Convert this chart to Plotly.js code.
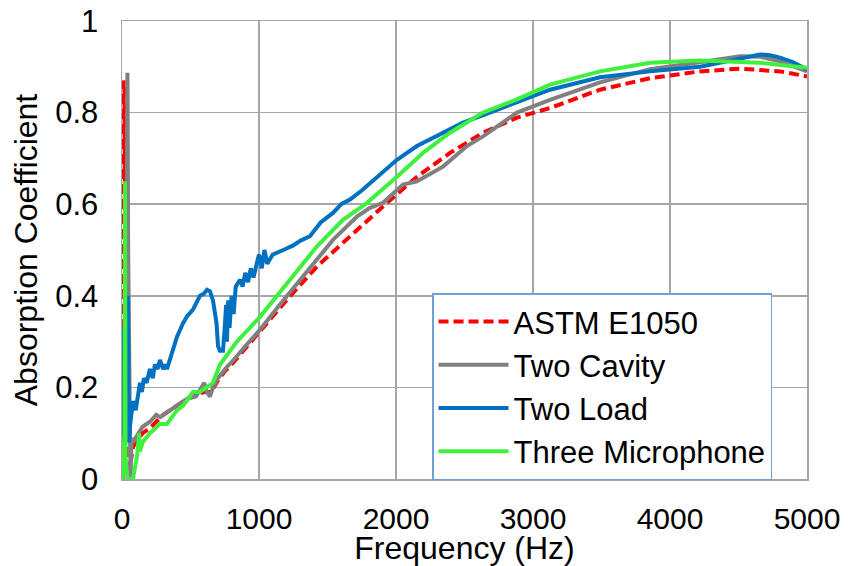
<!DOCTYPE html>
<html>
<head>
<meta charset="utf-8">
<script src="https://cdn.plot.ly/plotly-3.0.1.min.js"></script>
<style>html,body{margin:0;padding:0;background:#fff;}#chart{width:848px;height:566px;}</style>
</head>
<body>
<div id="chart"></div>
<script>
// ---- Data ----
const seriesNames = ["ASTM E1050", "Two Cavity", "Two Load", "Three Microphone"];

const astmFreq = [5, 12, 18, 25, 35, 60, 80, 100, 150, 200, 300, 400, 500, 600, 650, 700, 750, 800, 900, 1000, 1200, 1423, 1664, 1905, 2153, 2394, 2635, 2883, 3124, 3489, 3854, 4219, 4511, 4803, 5000];
const astmAbs  = [0.0, 0.87, 0.86, 0.3, 0.02, 0.03, 0.07, 0.08, 0.10, 0.11, 0.14, 0.16, 0.18, 0.19, 0.19, 0.215, 0.235, 0.25, 0.285, 0.32, 0.39, 0.464, 0.53, 0.595, 0.66, 0.712, 0.756, 0.789, 0.81, 0.85, 0.875, 0.89, 0.896, 0.89, 0.879];

const cavityFreq = [5, 15, 30, 40, 45, 55, 62, 70, 80, 120, 150, 204, 250, 280, 328, 360, 400, 474, 540, 569, 600, 620, 642, 664, 700, 766, 800, 900, 1007, 1150, 1321, 1540, 1715, 1810, 1905, 2051, 2153, 2343, 2518, 2635, 2883, 3124, 3489, 3854, 4219, 4511, 4657, 4803, 5000];
const cavityAbs  = [0.0, 0.05, 0.3, 0.887, 0.5, 0.05, 0.0, 0.09, 0.08, 0.10, 0.114, 0.125, 0.14, 0.135, 0.144, 0.15, 0.16, 0.175, 0.18, 0.195, 0.21, 0.19, 0.18, 0.2, 0.22, 0.245, 0.255, 0.29, 0.326, 0.38, 0.442, 0.522, 0.573, 0.592, 0.603, 0.643, 0.65, 0.682, 0.727, 0.748, 0.80, 0.828, 0.866, 0.895, 0.91, 0.923, 0.922, 0.912, 0.89];

const loadFreq = [5, 9, 14, 30, 44, 50, 60, 80, 100, 131, 145, 160, 180, 204, 225, 240, 260, 277, 300, 315, 328, 360, 401, 445, 474, 518, 569, 600, 620, 642, 664, 690, 701, 715, 737, 750, 760, 766, 775, 785, 800, 815, 830, 861, 880, 900, 920, 940, 960, 983, 1000, 1020, 1040, 1060, 1080, 1100, 1177, 1250, 1300, 1372, 1450, 1540, 1600, 1664, 1750, 1861, 2007, 2153, 2343, 2489, 2686, 2883, 3124, 3489, 3854, 4219, 4365, 4511, 4657, 4730, 4803, 4900, 5000];
const loadAbs  = [0.05, 0.33, 0.05, 0.1, 0.40, 0.08, 0.12, 0.17, 0.15, 0.21, 0.19, 0.22, 0.21, 0.24, 0.22, 0.25, 0.24, 0.26, 0.24, 0.25, 0.24, 0.27, 0.31, 0.34, 0.355, 0.37, 0.40, 0.405, 0.413, 0.41, 0.39, 0.34, 0.29, 0.28, 0.28, 0.33, 0.38, 0.30, 0.39, 0.33, 0.40, 0.36, 0.42, 0.435, 0.42, 0.45, 0.43, 0.46, 0.44, 0.47, 0.49, 0.46, 0.50, 0.47, 0.48, 0.49, 0.50, 0.51, 0.52, 0.53, 0.56, 0.581, 0.60, 0.61, 0.63, 0.66, 0.697, 0.727, 0.756, 0.778, 0.80, 0.822, 0.85, 0.877, 0.89, 0.90, 0.909, 0.918, 0.927, 0.925, 0.92, 0.91, 0.894];

const micFreq = [3, 10, 18, 22, 26, 40, 80, 110, 125, 131, 150, 204, 277, 328, 401, 445, 518, 569, 642, 664, 715, 766, 839, 1007, 1226, 1423, 1613, 1788, 2007, 2197, 2394, 2635, 2883, 3124, 3489, 3854, 4219, 4657, 5000];
const micAbs  = [0.0, 0.08, 0.1, 0.65, 0.05, 0.0, 0.0, 0.05, 0.1, 0.06, 0.08, 0.10, 0.12, 0.12, 0.15, 0.16, 0.19, 0.19, 0.205, 0.21, 0.25, 0.27, 0.30, 0.354, 0.435, 0.508, 0.566, 0.603, 0.66, 0.712, 0.756, 0.80, 0.829, 0.861, 0.89, 0.909, 0.914, 0.909, 0.898];

const xTicks = [0, 1000, 2000, 3000, 4000, 5000];
const yTicks = [0, 0.2, 0.4, 0.6, 0.8, 1];
const yTickText = ["0", "0.2", "0.4", "0.6", "0.8", "1"];

// ---- Chart ----
const FONT = '"Liberation Sans", Arial, sans-serif';
const LW = 4;
const traces = [
  {x: astmFreq, y: astmAbs, name: seriesNames[0], mode: 'lines',
   line: {color: '#ff0000', width: LW, dash: '10px,5px'}},
  {x: cavityFreq, y: cavityAbs, name: seriesNames[1], mode: 'lines',
   line: {color: '#808080', width: LW}},
  {x: loadFreq, y: loadAbs, name: seriesNames[2], mode: 'lines',
   line: {color: '#0070c0', width: LW}},
  {x: micFreq, y: micAbs, name: seriesNames[3], mode: 'lines',
   line: {color: '#3ff03f', width: LW}}
];

const layout = {
  width: 848, height: 566,
  margin: {l: 122, r: 41, t: 21, b: 87},
  paper_bgcolor: '#ffffff', plot_bgcolor: '#ffffff',
  font: {family: FONT, color: '#000000', size: 30},
  showlegend: true,
  legend: {
    x: 0.4526, y: 0.4055, xanchor: 'left', yanchor: 'top',
    bgcolor: '#ffffff', bordercolor: '#6fa0d8', borderwidth: 1.5,
    font: {family: FONT, size: 31, color: '#000'},
    itemwidth: 70, tracegroupgap: 0
  },
  xaxis: {
    range: [0, 5000], tickvals: xTicks, ticktext: xTicks.map(String),
    showgrid: true, gridcolor: '#a6a6a6', gridwidth: 1.5,
    showline: true, linecolor: '#a6a6a6', linewidth: 1.5, mirror: true,
    zeroline: false, ticks: '', ticklabelstandoff: 12,
    tickfont: {family: FONT, size: 30, color: '#000'},
    title: {text: 'Frequency (Hz)', font: {family: FONT, size: 32, color: '#000'}, standoff: 6}
  },
  yaxis: {
    range: [0, 1], tickvals: yTicks, ticktext: yTickText,
    showgrid: true, gridcolor: '#a6a6a6', gridwidth: 1.5,
    showline: true, linecolor: '#a6a6a6', linewidth: 1.5, mirror: true,
    zeroline: false, ticks: '', ticklabelstandoff: 16,
    tickfont: {family: FONT, size: 31, color: '#000'},
    title: {text: 'Absorption Coefficient', font: {family: FONT, size: 32, color: '#000'}, standoff: 8}
  }
};

Plotly.newPlot('chart', traces, layout, {displayModeBar: false, staticPlot: true});
</script>
</body>
</html>
